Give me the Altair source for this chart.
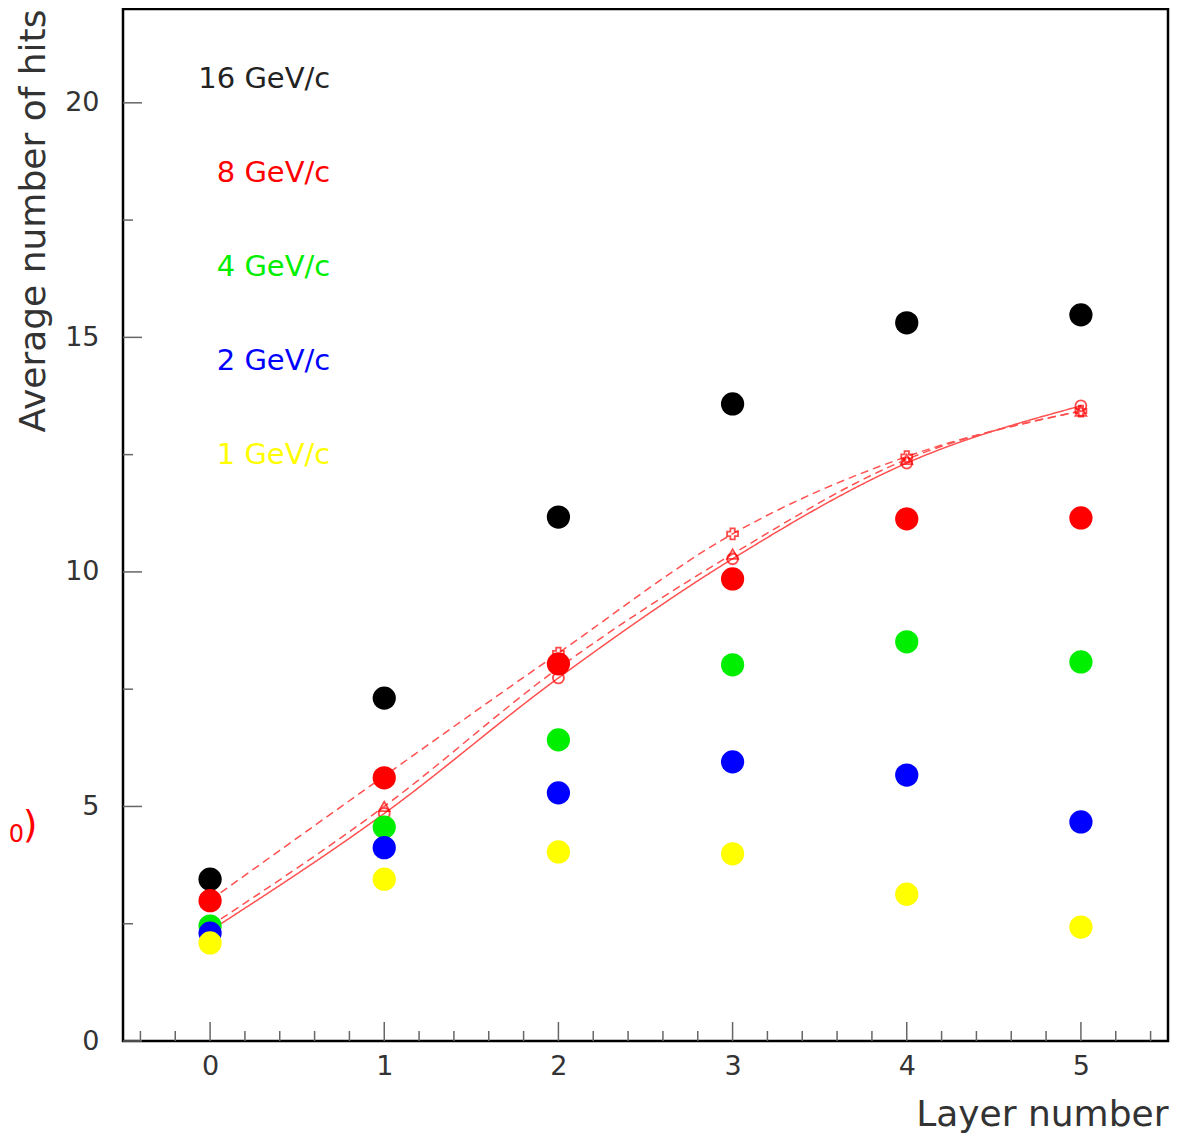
import altair as alt
import pandas as pd

# ---------------- data ----------------
layers = [0, 1, 2, 3, 4, 5]
hits_16 = [3.45, 7.31, 11.17, 13.58, 15.31, 15.48]
hits_8 = [2.99, 5.61, 8.04, 9.85, 11.13, 11.15]
hits_4 = [2.45, 4.56, 6.42, 8.02, 8.51, 8.08]
hits_2 = [2.30, 4.12, 5.29, 5.95, 5.67, 4.67]
hits_1 = [2.09, 3.45, 4.03, 3.99, 3.13, 2.43]

series_names = ["16 GeV/c", "8 GeV/c", "4 GeV/c", "2 GeV/c", "1 GeV/c"]
series_colors = ["#222222", "#ff0000", "#00ee00", "#0000ff", "#ffff00"]
dot_colors = ["#000000", "#ff0000", "#00ee00", "#0000ff", "#ffff00"]
label_y = [20.5, 18.5, 16.5, 14.5, 12.5]
label_x = 0.69

curve_solid = [2.35, 4.85, 7.74, 10.28, 12.32, 13.54]     # open circles
curve_dash_a = [2.45, 5.00, 7.95, 10.38, 12.40, 13.43]    # open triangles
curve_dash_b = [3.00, 5.65, 8.27, 10.81, 12.46, 13.43]    # open crosses

# clipped red annotation at the left edge: "f(x" + subscript "0" + ")"
side_head = "f(x"
side_head_x = -1.165
side_head_y = 4.58
side_tail_text = ["0", ")"]
side_tail_x = [-1.112, -1.033]
side_tail_y = [4.40, 4.58]
side_tail_size = [24, 38]

x_major = [0, 1, 2, 3, 4, 5]
x_minor = [-0.4, -0.2, 0.2, 0.4, 0.6, 0.8, 1.2, 1.4, 1.6, 1.8, 2.2, 2.4, 2.6, 2.8,
           3.2, 3.4, 3.6, 3.8, 4.2, 4.4, 4.6, 4.8, 5.2, 5.4]
y_major = [0, 5, 10, 15, 20]
y_minor = [2.5, 7.5, 12.5, 17.5]

W, H = 1045, 1032
FONT = "DejaVu Sans"
TXT = "#333333"
CURVE = "#ff5050"

XS = alt.Scale(domain=[-0.5, 5.5], nice=False, zero=False)
YS = alt.Scale(domain=[0, 22], nice=False, zero=False)

# ---------------- tables ----------------
all_hits = [hits_16, hits_8, hits_4, hits_2, hits_1]
rows = []
for name, col, vals in zip(series_names, dot_colors, all_hits):
    for lx, v in zip(layers, vals):
        rows.append({"x": lx, "y": v, "series": name, "color": col})
dots_df = pd.DataFrame(rows)

labels_df = pd.DataFrame({"x": [label_x] * 5, "y": label_y, "text": series_names,
                          "color": series_colors})

xaxis = alt.Axis(values=x_major, ticks=False, domain=False, grid=False,
                 labelFontSize=27, labelPadding=12, labelColor=TXT, labelFont=FONT,
                 titleFont=FONT, titleFontSize=36,
                 titleFontWeight="normal", titleColor=TXT,
                 titleX=W, titleY=92, titleAlign="right", titleBaseline="bottom")
yaxis = alt.Axis(values=y_major, ticks=False, domain=False, grid=False,
                 labelFontSize=27, labelPadding=24, labelColor=TXT, labelFont=FONT,
                 titleFont=FONT, titleFontSize=36,
                 titleFontWeight="normal", titleColor=TXT,
                 titleX=-90, titleY=0, titleAngle=270, titleAlign="right",
                 titleBaseline="middle")

def xq():
    return alt.X("x:Q", scale=XS, axis=xaxis, title="Layer number")

def yq():
    return alt.Y("y:Q", scale=YS, axis=yaxis, title="Average number of hits")

# ticks (pointing into the plot)
tick_color = "#666666"
xmaj = alt.Chart(pd.DataFrame({"x": x_major})).mark_rule(color=tick_color, strokeWidth=1.5).encode(
    x=xq(), y=alt.value(H), y2=alt.value(H - 19))
xmin = alt.Chart(pd.DataFrame({"x": x_minor})).mark_rule(color=tick_color, strokeWidth=1.5).encode(
    x=xq(), y=alt.value(H), y2=alt.value(H - 10))
ymaj = alt.Chart(pd.DataFrame({"y": y_major})).mark_rule(color=tick_color, strokeWidth=1.5).encode(
    y=yq(), x=alt.value(0), x2=alt.value(19))
ymin = alt.Chart(pd.DataFrame({"y": y_minor})).mark_rule(color=tick_color, strokeWidth=1.5).encode(
    y=yq(), x=alt.value(0), x2=alt.value(10))

def curve(vals, dash, shape):
    df = pd.DataFrame({"x": layers, "y": vals})
    line = alt.Chart(df).mark_line(color=CURVE, strokeWidth=1.5, strokeDash=dash,
                                   interpolate="monotone").encode(x=xq(), y=yq())
    pts = alt.Chart(df).mark_point(shape=shape, filled=False, color="#ff0000",
                                   strokeWidth=1.8, size=120).encode(x=xq(), y=yq())
    return line + pts

c1 = curve(curve_solid, [1, 0], "circle")
c2 = curve(curve_dash_a, [8, 5], "triangle-up")
c3 = curve(curve_dash_b, [8, 5], "cross")

dots = alt.Chart(dots_df).mark_circle(size=540, opacity=1).encode(
    x=xq(), y=yq(),
    color=alt.Color("color:N", scale=None),
)

labels = alt.Chart(labels_df).mark_text(align="right", baseline="middle", font=FONT,
                                        fontSize=29).encode(
    x=xq(), y=yq(), text="text:N", color=alt.Color("color:N", scale=None))

head_df = pd.DataFrame({"x": [side_head_x], "y": [side_head_y], "text": [side_head]})
side_head_mark = alt.Chart(head_df).mark_text(align="right", baseline="middle", font=FONT,
                                              fontSize=38, color="#ff0000").encode(
    x=xq(), y=yq(), text="text:N")
tail_df = pd.DataFrame({"x": side_tail_x, "y": side_tail_y, "text": side_tail_text,
                        "size": side_tail_size})
side_tail_mark = alt.Chart(tail_df).mark_text(align="center", baseline="middle", font=FONT,
                                              color="#ff0000").encode(
    x=xq(), y=yq(), text="text:N", size=alt.Size("size:Q", scale=None))

chart = alt.layer(xmin, xmaj, ymin, ymaj, c1, c2, c3, dots, labels,
                  side_head_mark, side_tail_mark).properties(
    width=W, height=H,
    autosize=alt.AutoSizeParams(type="none"),
    padding={"left": 115, "top": 1, "right": 5, "bottom": 93},
    background="white",
).configure_view(stroke="#000000", strokeWidth=2.5)

chart.save("out.html", embed_options={"renderer": "svg", "actions": False})
